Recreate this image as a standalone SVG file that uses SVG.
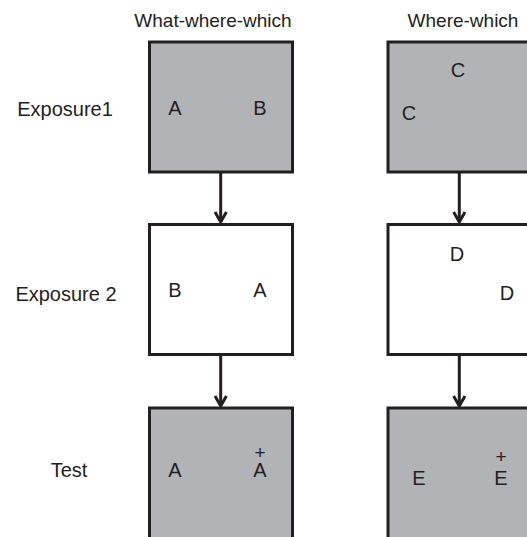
<svg xmlns="http://www.w3.org/2000/svg" width="527" height="537" viewBox="0 0 527 537">
<style>
text{font-family:"Liberation Sans",Arial,sans-serif;fill:#231f20}
.t{font-size:19px;text-anchor:middle}
.r{font-size:20px;text-anchor:middle}
.l{font-size:20px;text-anchor:middle}
.p{font-size:19px}
.g{fill:#b2b3b6;stroke:#231f20;stroke-width:3}
.w{fill:#ffffff;stroke:#231f20;stroke-width:3}
.c{fill:none;stroke:#231f20;stroke-width:3}
</style>
<rect width="527" height="537" fill="#ffffff"/>
<g id="titles">
<text class="t" x="213" y="27">What-where-which</text>
<text class="t" x="463" y="27">Where-which</text>
</g>
<g id="rowlabels">
<text class="r" x="65" y="116">Exposure1</text>
<text class="r" x="66" y="301">Exposure 2</text>
<text class="r" x="69" y="477">Test</text>
</g>
<g id="wwwExp1">
<rect class="g" x="149.5" y="42" width="143" height="130"/>
<text class="l" x="175" y="115">A</text>
<text class="l" x="260" y="115">B</text>
</g>
<g id="wwwExp2">
<rect class="w" x="149.5" y="224.5" width="143" height="130"/>
<text class="l" x="175" y="297">B</text>
<text class="l" x="260" y="297">A</text>
</g>
<g id="wwwTest">
<rect class="g" x="149.5" y="408" width="143" height="140"/>
<text class="l" x="175" y="477">A</text>
<text class="l" x="260" y="459"><tspan class="p">+</tspan><tspan x="260" y="477">A</tspan></text>
</g>
<g id="wwExp1">
<rect class="g" x="388" y="42" width="143" height="130"/>
<text class="l" x="458" y="77">C</text>
<text class="l" x="409" y="120">C</text>
</g>
<g id="wwExp2">
<rect class="w" x="388" y="224.5" width="143" height="130"/>
<text class="l" x="457" y="261">D</text>
<text class="l" x="507" y="300">D</text>
</g>
<g id="wwTest">
<rect class="g" x="388" y="408" width="143" height="140"/>
<text class="l" x="419" y="485">E</text>
<text class="l" x="501" y="462.5"><tspan class="p">+</tspan><tspan x="501" y="485">E</tspan></text>
</g>
<g id="connectors">
<line class="c" x1="220.7" y1="172" x2="220.7" y2="222"/>
<polyline class="c" points="215,212 220.7,222 226.4,212"/>
<line class="c" x1="220.7" y1="354" x2="220.7" y2="406"/>
<polyline class="c" points="215,396 220.7,406 226.4,396"/>
<line class="c" x1="459.3" y1="172" x2="459.3" y2="222"/>
<polyline class="c" points="453.6,212 459.3,222 465,212"/>
<line class="c" x1="459.3" y1="354" x2="459.3" y2="406"/>
<polyline class="c" points="453.6,396 459.3,406 465,396"/>
</g>
</svg>
